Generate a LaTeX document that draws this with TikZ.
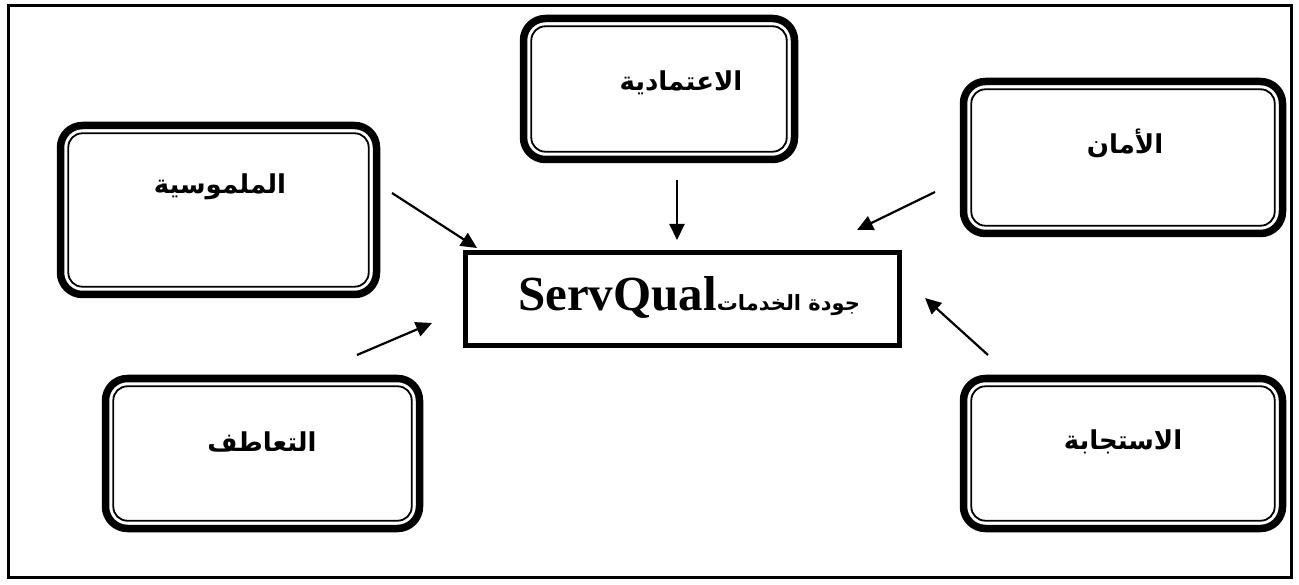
\documentclass[tikz,border=0pt]{standalone}
\usepackage{fontspec}
\setmainfont{Liberation Serif}
\newfontfamily\arabicfont[Script=Arabic]{DejaVu Sans}
\TeXXeTstate=1
\usetikzlibrary{arrows.meta}
\begin{document}
\begin{tikzpicture}[x=1pt,y=-1pt,
  dimbox/.style={draw, line width=7.5pt, rounded corners=22pt, outer sep=0pt, inner sep=0pt},
  innerline/.style={line width=1.8pt, rounded corners=14pt},
  dimlabel/.style={font=\arabicfont\bfseries\fontsize{26}{30}\selectfont, inner sep=0pt},
  corebox/.style={draw, line width=5pt, outer sep=0pt, inner sep=0pt, minimum width=434pt, minimum height=93pt},
  flow/.style={line width=2.2pt, -{Triangle[length=16pt,width=15pt]}}
]
\useasboundingbox (0,0) rectangle (1299,585);
% outer frame
\draw[line width=3pt] (8,6) rectangle (1291,577);

% dimension boxes
\node[dimbox, minimum width=316pt, minimum height=169pt] (tan) at (218.5,210) {};
\node[dimbox, minimum width=271pt, minimum height=141pt] (rel) at (659,89) {};
\node[dimbox, minimum width=319pt, minimum height=152pt] (saf) at (1123,157.5) {};
\node[dimbox, minimum width=314pt, minimum height=150pt] (emp) at (262.5,453.5) {};
\node[dimbox, minimum width=319pt, minimum height=150pt] (res) at (1123,453.5) {};
\foreach \b in {tan,rel,saf,emp,res}
  \draw[innerline] ([shift={(7.8,7.8)}]\b.north west) rectangle ([shift={(-7.8,-7.8)}]\b.south east);

% labels
\node[dimlabel] (tanl) at (220,187) {\beginR الملموسية\endR};
\node[dimlabel] (rell) at (681,83) {\beginR الاعتمادية\endR};
\node[dimlabel] (safl) at (1125,143) {\beginR الأمان\endR};
\node[dimlabel] (empl) at (262,442) {\beginR التعاطف\endR};
\node[dimlabel] (resl) at (1123,442) {\beginR الاستجابة\endR};

% central concept
\node[corebox] (core) at (682.5,299) {};
\node[inner sep=0pt] (corel) at (689,297)
  {{\bfseries\fontsize{49}{54}\selectfont ServQual}{\arabicfont\bfseries\fontsize{21}{26}\selectfont\beginR جودة الخدمات\endR}};

% arrows towards the centre
\coordinate (a1s) at (392,193);  \coordinate (a1e) at (477,248);
\coordinate (a2s) at (677,180);  \coordinate (a2e) at (677,240);
\coordinate (a3s) at (935,192);  \coordinate (a3e) at (857,230);
\coordinate (a4s) at (357,355);  \coordinate (a4e) at (432,323);
\coordinate (a5s) at (988,355);  \coordinate (a5e) at (925,298);
\foreach \i in {1,...,5}
  \draw[flow] (a\i s) -- (a\i e);
\end{tikzpicture}
\end{document}
